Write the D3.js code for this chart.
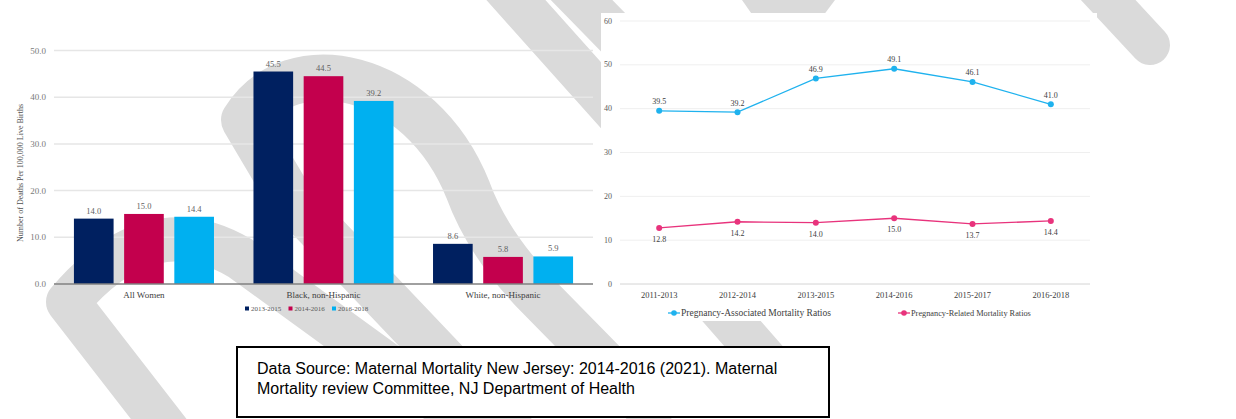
<!DOCTYPE html>
<html>
<head>
<meta charset="utf-8">
<script src="https://cdn.jsdelivr.net/npm/d3@7"></script>
<style>
  html, body { margin: 0; padding: 0; background: #fff; }
  svg { display: block; }
</style>
</head>
<body>
<div class="visualisation"></div>
<script>
// Bar chart data (left)
const groups = ["All Women", "Black, non-Hispanic", "White, non-Hispanic"];
const periods = ["2013-2015", "2014-2016", "2016-2018"];
const ratio2013_2015 = [14.0, 45.5, 8.6];
const ratio2014_2016 = [15.0, 44.5, 5.8];
const ratio2016_2018 = [14.4, 39.2, 5.9];
const barTicks = [0, 10, 20, 30, 40, 50];

// Line chart data (right)
const years = ["2011-2013", "2012-2014", "2013-2015", "2014-2016", "2015-2017", "2016-2018"];
const associated = [39.5, 39.2, 46.9, 49.1, 46.1, 41.0];
const related = [12.8, 14.2, 14.0, 15.0, 13.7, 14.4];
const lineTicks = [0, 10, 20, 30, 40, 50, 60];

const sourceLines = [
    "Data Source: Maternal Mortality New Jersey: 2014-2016 (2021). Maternal",
    "Mortality review Committee, NJ Department of Health"
];

const width = 1236;
const height = 419;
const serif = "'Liberation Serif', 'Times New Roman', Times, serif";
const barColors = ["#002060", "#c3004d", "#00b0f0"];
const blue = "#1fb2ee";
const pink = "#e8337c";

const svg = d3.select(".visualisation")
    .append("svg")
    .attr("width", width)
    .attr("height", height)
    .attr("viewBox", `0 0 ${width} ${height}`);

// grey watermark strokes behind everything
const wm = svg.append("g")
    .attr("fill", "none")
    .attr("stroke", "#dadada")
    .attr("stroke-linecap", "round")
    .attr("stroke-linejoin", "round");
wm.append("path").attr("stroke-width", 44)
    .attr("d", "M175,440 L68,302 Q150,205 240,258 L470,425");
wm.append("path").attr("stroke-width", 46)
    .attr("d", "M520,440 L290,198 L244,120 C290,45 420,70 468,190 Q488,245 540,298 L650,410");
wm.append("path").attr("stroke-width", 44).attr("d", "M498,-20 L650,150");
wm.append("path").attr("stroke-width", 44).attr("d", "M562,-20 L650,70");
wm.append("path").attr("stroke-width", 44).attr("d", "M700,285 L770,365");
wm.append("path").attr("stroke-width", 40).attr("d", "M1085,-25 L1150,45");
svg.append("path").attr("fill", "#dadada")
    .attr("d", "M742,0 L835,0 L805,40 L770,40 Z");

// ---------- bar chart ----------
const bar = svg.append("g").attr("font-family", serif);

const x0 = d3.scaleBand()
    .domain(groups)
    .range([54, 593])
    .paddingInner(0.22)
    .paddingOuter(0.111);
const x1 = d3.scaleBand()
    .domain(periods)
    .range([0, x0.bandwidth()])
    .paddingInner(0.21);
const yBar = d3.scaleLinear().domain([0, 50]).range([284, 50.5]);

bar.selectAll("line.grid")
    .data(barTicks.slice(1))
    .enter().append("line")
    .attr("x1", 54).attr("x2", 593)
    .attr("y1", d => yBar(d)).attr("y2", d => yBar(d))
    .attr("stroke", "#e6e6e6").attr("stroke-width", 1.5);

bar.selectAll("text.ytick")
    .data(barTicks)
    .enter().append("text")
    .attr("x", 46)
    .attr("y", d => yBar(d) + 3)
    .attr("text-anchor", "end")
    .attr("font-size", 9)
    .attr("fill", "#7a7a7a")
    .text(d => d3.format(".1f")(d));

bar.append("text")
    .attr("transform", "translate(23," + 173 + ") rotate(-90)")
    .attr("text-anchor", "middle")
    .attr("font-size", 8)
    .attr("fill", "#505050")
    .text("Number of Deaths Per 100,000 Live Births");

const seriesBar = [ratio2013_2015, ratio2014_2016, ratio2016_2018];
const barRows = [];
groups.forEach((g, i) => {
    periods.forEach((p, j) => barRows.push({group: g, period: p, value: seriesBar[j][i], color: barColors[j]}));
});

bar.selectAll("rect.bar")
    .data(barRows)
    .enter().append("rect")
    .attr("x", d => x0(d.group) + x1(d.period))
    .attr("y", d => yBar(d.value))
    .attr("width", x1.bandwidth())
    .attr("height", d => yBar(0) - yBar(d.value))
    .attr("fill", d => d.color);

bar.selectAll("text.val")
    .data(barRows)
    .enter().append("text")
    .attr("x", d => x0(d.group) + x1(d.period) + x1.bandwidth() / 2)
    .attr("y", d => yBar(d.value) - 5)
    .attr("text-anchor", "middle")
    .attr("font-size", 8.5)
    .attr("fill", "#5f5f5f")
    .text(d => d3.format(".1f")(d.value));

bar.append("line")
    .attr("x1", 54).attr("x2", 593)
    .attr("y1", yBar(0)).attr("y2", yBar(0))
    .attr("stroke", "#808080").attr("stroke-width", 1.5);

bar.selectAll("text.cat")
    .data(groups)
    .enter().append("text")
    .attr("x", d => x0(d) + x0.bandwidth() / 2)
    .attr("y", 298)
    .attr("text-anchor", "middle")
    .attr("font-size", 9)
    .attr("fill", "#404040")
    .text(d => d);

const legBar = bar.selectAll("g.leg")
    .data(periods)
    .enter().append("g")
    .attr("transform", (d, i) => "translate(" + (245 + i * 43.5) + ",309)");
legBar.append("rect")
    .attr("x", 0).attr("y", -2.5).attr("width", 4).attr("height", 4)
    .attr("fill", (d, i) => barColors[i]);
legBar.append("text")
    .attr("x", 6).attr("y", 2.3)
    .attr("font-size", 7)
    .attr("fill", "#595959")
    .text(d => d);

// ---------- line chart ----------
svg.append("rect")
    .attr("x", 601).attr("y", 13)
    .attr("width", 496).attr("height", 308)
    .attr("fill", "#fff");

const line = svg.append("g").attr("font-family", serif);

const xLine = d3.scalePoint().domain(years).range([620, 1090]).padding(0.5);
const yLine = d3.scaleLinear().domain([0, 60]).range([284, 21]);

line.selectAll("line.grid")
    .data(lineTicks)
    .enter().append("line")
    .attr("x1", 620).attr("x2", 1090)
    .attr("y1", d => yLine(d)).attr("y2", d => yLine(d))
    .attr("stroke", d => d === 0 ? "#d4d4d4" : "#efefef")
    .attr("stroke-width", 1);

line.selectAll("text.ytick")
    .data(lineTicks)
    .enter().append("text")
    .attr("x", 612)
    .attr("y", d => yLine(d) + 2.5)
    .attr("text-anchor", "end")
    .attr("font-size", 8)
    .attr("fill", "#595959")
    .text(d => d);

line.selectAll("text.xtick")
    .data(years)
    .enter().append("text")
    .attr("x", d => xLine(d))
    .attr("y", 298)
    .attr("text-anchor", "middle")
    .attr("font-size", 8.5)
    .attr("fill", "#404040")
    .text(d => d);

const path = d3.line()
    .x((d, i) => xLine(years[i]))
    .y(d => yLine(d));

function drawSeries(values, color, above) {
    line.append("path")
        .datum(values)
        .attr("fill", "none")
        .attr("stroke", color)
        .attr("stroke-width", 1.3)
        .attr("d", path);
    line.selectAll(null)
        .data(values)
        .enter().append("circle")
        .attr("cx", (d, i) => xLine(years[i]))
        .attr("cy", d => yLine(d))
        .attr("r", 3)
        .attr("fill", color);
    line.selectAll(null)
        .data(values)
        .enter().append("text")
        .attr("x", (d, i) => xLine(years[i]))
        .attr("y", d => yLine(d) + (above ? -6.5 : 14))
        .attr("text-anchor", "middle")
        .attr("font-size", 8)
        .attr("fill", "#404040")
        .text(d => d3.format(".1f")(d));
}
drawSeries(associated, blue, true);
drawSeries(related, pink, false);

const legendItems = [
    {label: "Pregnancy-Associated Mortality Ratios", color: blue, x: 668, size: 9.5},
    {label: "Pregnancy-Related Mortality Ratios", color: pink, x: 898, size: 8.3}
];
const legLine = line.selectAll("g.leg")
    .data(legendItems)
    .enter().append("g")
    .attr("transform", d => "translate(" + d.x + ",313)");
legLine.append("line")
    .attr("x1", 0).attr("x2", 12)
    .attr("stroke", d => d.color).attr("stroke-width", 1.3);
legLine.append("circle")
    .attr("cx", 6).attr("r", 2.8)
    .attr("fill", d => d.color);
legLine.append("text")
    .attr("x", 13).attr("y", d => d.size * 0.33)
    .attr("font-size", d => d.size)
    .attr("fill", "#404040")
    .text(d => d.label);

// ---------- source box ----------
svg.append("rect")
    .attr("x", 237).attr("y", 347)
    .attr("width", 592).attr("height", 70)
    .attr("fill", "#fff")
    .attr("stroke", "#000")
    .attr("stroke-width", 2);

svg.selectAll("text.src")
    .data(sourceLines)
    .enter().append("text")
    .attr("x", 257)
    .attr("y", (d, i) => 374 + i * 20)
    .attr("font-family", "'Liberation Sans', Arial, sans-serif")
    .attr("font-size", 16)
    .attr("fill", "#000")
    .text(d => d);
</script>
</body>
</html>
